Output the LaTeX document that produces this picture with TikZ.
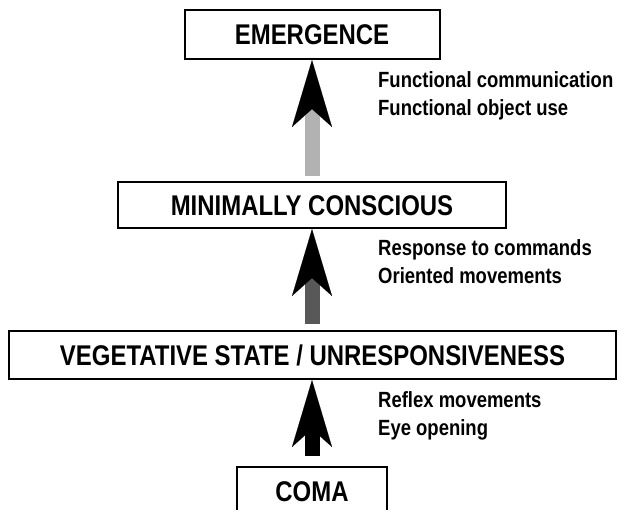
\documentclass[tikz,border=0pt]{standalone}
\usepackage{fontspec}
\setmainfont{Liberation Sans}[FakeStretch=0.84]
\usetikzlibrary{arrows.meta}
\tikzset{
  statebox/.style={draw=black, line width=2pt, fill=white, inner sep=0pt,
    font=\fontsize{28.5}{31}\selectfont\bfseries, text height=20.4pt, text depth=0pt},
  sign/.style={anchor=base west, inner sep=0pt, font=\fontsize{22}{25}\selectfont\bfseries},
  uparrow/.style={line width=15pt,
    -{Stealth[black, line width=0.1pt, length=67pt, width=40pt, inset=18pt]}},
}
\begin{document}
\begin{tikzpicture}[x=1pt, y=-1pt]
\useasboundingbox (0,0) rectangle (624,509);
\clip (0,0) rectangle (624,509);
\node[statebox, minimum width=255pt, minimum height=49pt] (emerg) at (312,34.5) {EMERGENCE};
\node[statebox, minimum width=388pt, minimum height=46pt] (mini) at (312,205) {MINIMALLY CONSCIOUS};
\node[statebox, minimum width=607pt, minimum height=48pt] (veg) at (312.5,355) {VEGETATIVE STATE / UNRESPONSIVENESS};
\node[statebox, minimum width=150pt, minimum height=48pt] (coma) at (312,491) {COMA};

\draw[uparrow, draw={rgb,255:red,178;green,178;blue,178}, shorten <=5pt] (mini.north) -- (emerg.south);
\draw[uparrow, draw={rgb,255:red,88;green,88;blue,88}, shorten <=6pt] (veg.north -| mini.north) -- (mini.south);
\draw[uparrow, draw=black, shorten <=10pt] (coma.north) -- (veg.south -| coma.north);

\node[sign] (l1) at (378,87.5) {Functional communication};
\node[sign] (l2) at (378,115) {Functional object use};
\node[sign] (l3) at (378,255) {Response to commands};
\node[sign] (l4) at (378,283) {Oriented movements};
\node[sign] (l5) at (378,407.5) {Reflex movements};
\node[sign] (l6) at (378,435) {Eye opening};
\end{tikzpicture}
\end{document}
